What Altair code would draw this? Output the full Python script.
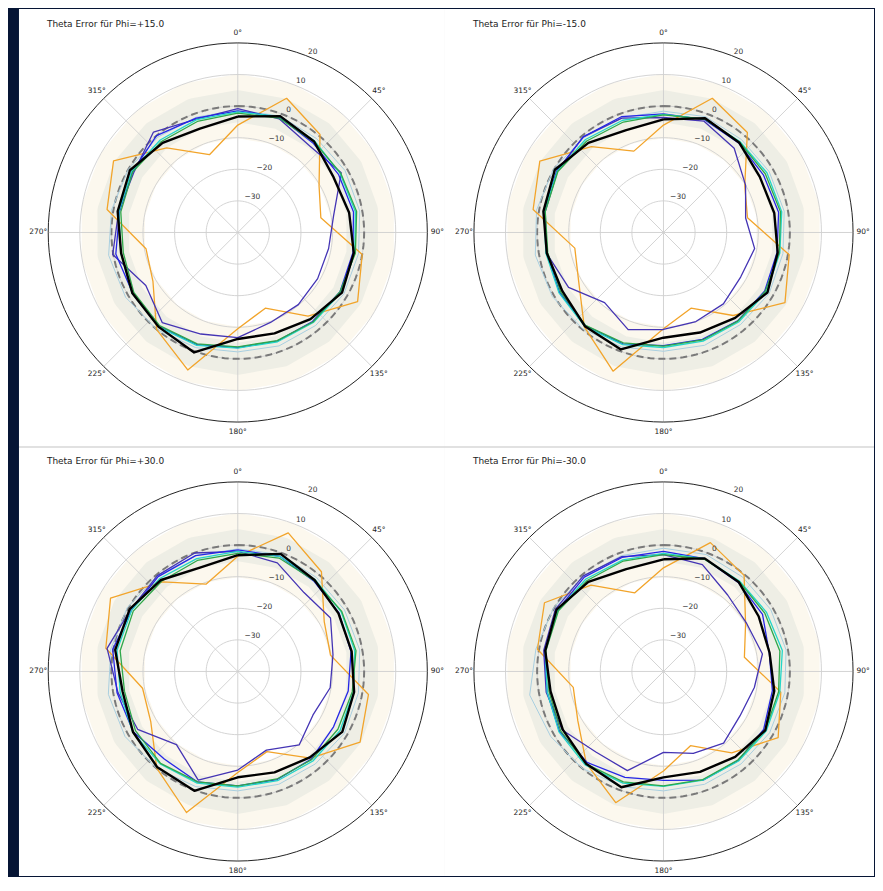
import altair as alt
import pandas as pd
import numpy as np

# ---------------- data ----------------
ANGLES = list(range(0, 360, 20))            # measurement directions (deg)
R_TICKS = [-30, -20, -10, 0, 10, 20]
R_TICK_LABELS = ["−30", "−20", "−10", "0", "10", "20"]
THETA_TICKS = [0, 45, 90, 135, 180, 225, 270, 315]
THETA_LABELS = ["0°", "45°", "90°", "135°", "180°", "225°", "270°", "315°"]
R_CENTER = -40
R_OUTER = 20

TITLES = ["Theta Error für Phi=+15.0", "Theta Error für Phi=-15.0",
          "Theta Error für Phi=+30.0", "Theta Error für Phi=-30.0"]

SERIES = ["lightblue", "orange", "indigo", "blue", "cyan", "green", "black"]
SERIES_COLORS = ["#a9cfe0", "#f2a42a", "#4434b4", "#2626e6", "#22d6c8", "#2ea84a", "#000000"]
SERIES_WIDTHS = [1.0, 1.3, 1.3, 1.3, 1.3, 1.3, 2.4]

# Phi = +15
p1_black = [-3.3, -0.8, -2.4, -5.0, -4.2, -2.7, -1.9, -4.2, -6.0, -6.3, 0.4, -1.0, -1.5, -2.5, -1.4, -0.6, -3.0, -5.0]
p1_orange = [-6.0, 5.2, 0.5, -10.3, -13.3, 0.0, 3.8, -5.4, -14.5, -9.5, 6.3, 0.0, -9.0, -10.5, 2.0, 5.4, -5.0, -13.8]
p1_indigo = [-0.8, -1.7, -4.4, -2.2, -9.2, -10.8, -10.8, -10.2, -9.7, -6.7, -5.8, -2.8, -6.4, 0.2, -1.7, -2.0, 1.5, -1.8]
p1_blue = [-1.5, -1.2, -3.0, -3.2, -2.8, -3.0, -2.6, -3.2, -3.4, -3.6, -2.2, -1.2, -1.6, -0.8, -2.0, -1.5, 0.0, -1.5]
p1_cyan = [-1.8, -1.0, -2.2, -2.6, -2.2, -2.4, -2.2, -2.8, -3.2, -3.4, -2.0, -1.0, -1.4, -2.4, -1.8, -1.2, -1.8, -2.0]
p1_green = [-2.2, -1.5, -2.5, -2.4, -1.8, -2.2, -2.6, -3.0, -3.6, -3.8, -2.5, -1.5, -2.0, -3.2, -2.4, -1.6, -2.4, -2.6]
p1_lightblue = [-1.2, -0.8, -1.2, -0.8, -0.8, -1.2, -1.2, -1.6, -1.8, -2.2, -1.2, 0.0, 1.0, 1.5, 0.6, 0.0, -0.6, -1.2]

# Phi = -15
p2_black = [-4.2, -1.5, -2.8, -4.8, -4.4, -3.3, -2.0, -4.7, -6.3, -6.7, -0.6, -1.3, -3.0, -2.5, -1.4, -0.3, -3.0, -5.5]
p2_orange = [-6.0, 5.2, 1.3, -10.3, -13.0, 0.4, 4.4, -5.7, -14.5, -9.5, 6.7, -1.0, -9.0, -11.5, 1.9, 5.2, -4.5, -12.6]
p2_indigo = [-3.6, -2.5, -5.2, -10.0, -13.6, -10.7, -11.8, -10.5, -10.0, -9.3, -7.3, -11.0, -5.3, -2.4, -2.0, -1.2, -0.5, -1.5]
p2_blue = [-2.5, -2.0, -3.0, -3.5, -3.0, -3.5, -3.0, -3.5, -4.0, -4.2, -2.5, -1.5, -2.0, -2.5, -1.5, -1.0, -0.5, -1.0]
p2_cyan = [-2.6, -1.8, -2.4, -2.2, -2.0, -2.6, -2.4, -3.0, -3.4, -3.6, -2.2, -1.2, -1.8, -2.2, -1.6, -1.2, -1.6, -2.2]
p2_green = [-2.8, -1.8, -2.6, -2.8, -2.4, -2.8, -2.8, -3.4, -3.8, -4.0, -2.8, -1.6, -2.4, -2.8, -2.0, -1.4, -2.2, -2.8]
p2_lightblue = [-1.6, -1.0, -1.6, -1.4, -1.2, -1.6, -1.4, -2.0, -2.0, -2.4, -1.4, -0.2, 0.6, 1.2, 0.8, 0.2, -0.8, -1.4]

# Phi = +30
p3_black = [-3.2, -0.4, -2.2, -3.2, -3.4, -2.6, -1.8, -4.5, -6.0, -6.5, 0.2, -0.4, -1.7, -3.0, -0.6, -0.5, -2.2, -5.0]
p3_orange = [-3.5, 6.7, 1.2, -8.4, -10.2, 2.0, 4.7, -4.2, -13.0, -8.0, 7.5, -0.1, -8.2, -9.4, 2.4, 6.5, -3.0, -10.6]
p3_indigo = [-2.0, -3.4, -7.4, -6.1, -9.4, -10.3, -12.5, -9.7, -13.5, -8.8, -3.4, -9.8, -3.4, -1.5, 2.0, -0.8, -0.4, -0.1]
p3_blue = [-1.5, -1.2, -2.6, -3.0, -3.6, -4.5, -5.0, -3.8, -3.6, -3.8, -2.8, -3.8, -1.8, -1.2, 0.2, -1.2, -0.8, -1.0]
p3_cyan = [-2.0, -1.2, -2.0, -2.2, -2.4, -2.8, -2.6, -3.0, -3.2, -3.4, -2.4, -1.8, -1.6, -2.2, -1.2, -1.2, -1.6, -2.0]
p3_green = [-2.6, -1.8, -2.4, -2.0, -2.0, -3.2, -3.4, -3.6, -3.8, -3.8, -2.8, -2.0, -2.6, -3.6, -2.2, -1.8, -2.6, -2.6]
p3_lightblue = [-1.2, -0.6, -1.2, -1.0, -0.8, -1.2, -1.0, -1.8, -2.0, -2.2, -1.2, 0.0, 1.2, 1.6, 0.8, 0.4, -0.4, -1.0]

# Phi = -30
p4_black = [-4.5, -1.9, -3.0, -5.2, -5.9, -4.4, -2.8, -4.7, -6.2, -6.5, -1.0, -1.9, -3.2, -3.7, -2.0, -0.9, -3.0, -5.5]
p4_orange = [-7.2, 3.4, -0.3, -10.0, -14.0, -2.3, 1.9, -6.4, -15.0, -8.5, 4.2, -2.0, -8.7, -11.0, 0.5, 3.5, -4.3, -13.5]
p4_indigo = [-3.0, -4.0, -8.4, -9.6, -8.2, -10.8, -12.0, -10.4, -12.4, -14.4, -6.6, -6.7, -3.0, -2.3, -1.5, -0.5, -0.5, -1.3]
p4_blue = [-2.0, -2.0, -3.2, -3.8, -6.0, -5.0, -3.4, -3.2, -3.4, -5.5, -4.3, -2.4, -2.0, -2.6, -1.8, -1.2, -1.0, -1.6]
p4_cyan = [-2.6, -2.0, -2.6, -2.4, -1.8, -2.6, -2.4, -3.0, -3.4, -3.6, -2.4, -1.4, -1.8, -2.6, -2.0, -1.4, -1.8, -2.4]
p4_green = [-3.0, -2.2, -2.8, -3.0, -2.6, -3.0, -2.8, -3.4, -3.6, -3.8, -2.8, -1.8, -2.4, -3.2, -2.2, -1.6, -2.4, -2.8]
p4_lightblue = [-1.0, -0.6, -1.0, -0.8, -0.6, -1.0, -1.2, -1.8, -2.0, -2.2, -1.2, 0.0, 1.2, 3.0, 1.0, 0.2, -0.6, -1.0]

PANEL_DATA = [
    {"lightblue": p1_lightblue, "orange": p1_orange, "indigo": p1_indigo, "blue": p1_blue,
     "cyan": p1_cyan, "green": p1_green, "black": p1_black},
    {"lightblue": p2_lightblue, "orange": p2_orange, "indigo": p2_indigo, "blue": p2_blue,
     "cyan": p2_cyan, "green": p2_green, "black": p2_black},
    {"lightblue": p3_lightblue, "orange": p3_orange, "indigo": p3_indigo, "blue": p3_blue,
     "cyan": p3_cyan, "green": p3_green, "black": p3_black},
    {"lightblue": p4_lightblue, "orange": p4_orange, "indigo": p4_indigo, "blue": p4_blue,
     "cyan": p4_cyan, "green": p4_green, "black": p4_black},
]

BAND_OUTER = 10      # tolerance band +-10
BAND_INNER = 5       # tolerance band +-5

# ---------------- styling / layout ----------------
NAVY = "#061535"
FONT = "DejaVu Sans"
PX_PER_UNIT = 190.0 / (R_OUTER - R_CENTER)

XC = f"(datum.r - ({R_CENTER})) * sin(datum.a * PI / 180)"
YC = f"(datum.r - ({R_CENTER})) * cos(datum.a * PI / 180)"


def closed(values, angles, extra=0):
    a = list(angles) + [360 + x for x in angles[:1 + extra]]
    v = list(values) + list(values[:1 + extra])
    return a, v


def panel(k, W, H, L, T, sep):
    xdom = [-L / PX_PER_UNIT, (W - L) / PX_PER_UNIT]
    ydom = [-(H - T) / PX_PER_UNIT, T / PX_PER_UNIT]

    def X(f):
        return alt.X(f, type="quantitative", scale=alt.Scale(domain=xdom, nice=False, zero=False), axis=None)

    def Y(f):
        return alt.Y(f, type="quantitative", scale=alt.Scale(domain=ydom, nice=False, zero=False), axis=None)

    layers = []

    # tolerance bands (drawn as thick polygon strokes centred on r = 0)
    ba, bv = closed([0] * len(ANGLES), ANGLES, extra=1)
    band_df = pd.DataFrame({"a": ba, "r": bv, "i": range(len(ba))})
    for width_units, col in [(2 * BAND_OUTER, "#fcf8ee"), (2 * BAND_INNER, "#eeeee5")]:
        layers.append(
            alt.Chart(band_df).mark_line(color=col, strokeWidth=width_units * PX_PER_UNIT,
                                         strokeJoin="round", strokeCap="butt")
            .transform_calculate(x=XC, y=YC)
            .encode(x=X("x"), y=Y("y"), order="i:Q")
        )

    # circular grid
    circ_a = np.arange(0, 361, 3)
    ring_rows = [{"r": rv, "a": float(a), "i": j} for rv in R_TICKS[:-1] for j, a in enumerate(circ_a)]
    ring_df = pd.DataFrame(ring_rows)
    layers.append(
        alt.Chart(ring_df).mark_line(color="#cfcfcf", strokeWidth=0.9, strokeJoin="round")
        .transform_calculate(x=XC, y=YC)
        .encode(x=X("x"), y=Y("y"), detail="r:N", order="i:Q")
    )
    # spokes
    spoke_df = pd.DataFrame({"a": THETA_TICKS})
    layers.append(
        alt.Chart(spoke_df).mark_rule(color="#cfcfcf", strokeWidth=0.9)
        .transform_calculate(x0="0 * datum.a", y0="0 * datum.a",
                             x1=f"{R_OUTER - R_CENTER} * sin(datum.a * PI / 180)",
                             y1=f"{R_OUTER - R_CENTER} * cos(datum.a * PI / 180)")
        .encode(x=X("x0"), y=Y("y0"), x2="x1:Q", y2="y1:Q")
    )
    # outer frame circle
    outer_df = pd.DataFrame({"r": [R_OUTER] * len(circ_a), "a": circ_a, "i": range(len(circ_a))})
    layers.append(
        alt.Chart(outer_df).mark_line(color="#222222", strokeWidth=1.0, strokeJoin="round")
        .transform_calculate(x=XC, y=YC)
        .encode(x=X("x"), y=Y("y"), order="i:Q")
    )
    # dashed zero circle
    zero_df = pd.DataFrame({"r": [0] * len(circ_a), "a": circ_a, "i": range(len(circ_a))})
    layers.append(
        alt.Chart(zero_df).mark_line(color="#7a7a7a", strokeWidth=2.0, strokeDash=[7, 4], strokeJoin="round")
        .transform_calculate(x=XC, y=YC)
        .encode(x=X("x"), y=Y("y"), order="i:Q")
    )

    # data series
    for name, col, w in zip(SERIES, SERIES_COLORS, SERIES_WIDTHS):
        sa, sv = closed(PANEL_DATA[k][name], ANGLES)
        sdf = pd.DataFrame({"a": sa, "r": sv, "i": range(len(sa))})
        layers.append(
            alt.Chart(sdf).mark_line(color=col, strokeWidth=w, strokeJoin="round")
            .transform_calculate(x=XC, y=YC)
            .encode(x=X("x"), y=Y("y"), order="i:Q")
        )

    # radial tick labels at 22.5 deg
    rl_df = pd.DataFrame({"r": R_TICKS, "t": R_TICK_LABELS})
    layers.append(
        alt.Chart(rl_df).mark_text(font=FONT, fontSize=7.5, color="#333333", align="center", baseline="middle")
        .transform_calculate(x="(datum.r - (%d) + 2) * sin(22.5 * PI / 180)" % R_CENTER,
                             y="(datum.r - (%d) + 2) * cos(22.5 * PI / 180)" % R_CENTER)
        .encode(x=X("x"), y=Y("y"), text="t:N")
    )
    # angle labels
    al_df = pd.DataFrame({"a": THETA_TICKS, "t": THETA_LABELS})
    lab_r = 200.0 / PX_PER_UNIT
    layers.append(
        alt.Chart(al_df).mark_text(font=FONT, fontSize=7.5, color="#222222", align="center", baseline="middle")
        .transform_calculate(x=f"{lab_r} * sin(datum.a * PI / 180)", y=f"{lab_r} * cos(datum.a * PI / 180)")
        .encode(x=X("x"), y=Y("y"), text="t:N")
    )
    # panel title
    tdf = pd.DataFrame({"t": [TITLES[k]]})
    layers.append(
        alt.Chart(tdf).mark_text(font=FONT, fontSize=9, color="#222222", align="left", baseline="middle")
        .encode(x=alt.value(28), y=alt.value(15), text="t:N")
    )
    if sep:
        layers.append(
            alt.Chart(tdf).mark_rule(color="#c4c4c4", strokeWidth=1.2)
            .encode(x=alt.value(0), x2=alt.value(W), y=alt.value(1))
        )

    return alt.layer(*layers).properties(width=W, height=H)


# chart = 867 x 869 px so that the page (with its 8px margins) fits the window
p1 = panel(0, 427, 438, 219.3, 224.0, False)
p2 = panel(1, 430, 438, 219.0, 224.0, False)
p3 = panel(2, 427, 431, 219.3, 226.0, True)
p4 = panel(3, 430, 431, 219.0, 226.0, True)

chart = alt.concat(p1, p2, p3, p4, columns=2, spacing=0, bounds="flush").properties(
    padding={"left": 10, "top": 0, "right": 0, "bottom": 0},
    background=NAVY,
).configure_view(fill="white", stroke=None)

chart.save("out.html", embed_options={"renderer": "svg", "actions": False})
